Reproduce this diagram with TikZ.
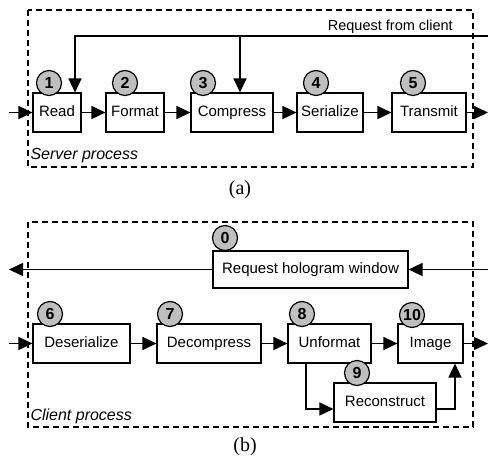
\documentclass[tikz,border=0pt]{standalone}
\usepackage{fontspec}
\setmainfont{Liberation Sans}
\newfontfamily\capfont{Liberation Serif}
\usetikzlibrary{arrows.meta}
\newcommand{\badge}[3]{\node[badge] (c#1) at (#2,#3) {#1};}
\begin{document}
\begin{tikzpicture}[x=1pt, y=-1pt, >={Triangle[length=14pt,width=13pt]},
    box/.style={draw, line width=1.1pt, fill=white, minimum height=39pt, inner sep=2pt,
        text height=11pt, text depth=3pt, font=\fontsize{15}{17}\selectfont},
    badge/.style={circle, draw, line width=1.2pt, fill=gray!50, minimum size=25pt, inner sep=0pt,
        font=\fontsize{16}{17}\selectfont\bfseries},
    frame/.style={draw, line width=1.6pt, dash pattern=on 6pt off 4pt},
    link/.style={line width=1.5pt, ->}]
    \useasboundingbox (0,0) rectangle (488,464);
    % (a) server side
    \draw[frame] (28,10) rectangle (473,167);
    \node[right, font=\fontsize{16}{17}\selectfont\itshape] (srv) at (27,156) {Server process};
    \node[box, minimum width=48pt] (read) at (57,112.5) {Read};
    \node[box, minimum width=58pt] (fmt) at (135,112.5) {Format};
    \node[box, minimum width=82pt] (comp) at (232,112.5) {Compress};
    \node[box, minimum width=66pt] (ser) at (330,112.5) {Serialize};
    \node[box, minimum width=74pt] (tx) at (429,112.5) {Transmit};
    \badge{1}{49}{83}
    \badge{2}{125}{83}
    \badge{3}{203}{83}
    \badge{4}{316}{83}
    \badge{5}{413}{83}
    \coordinate (ina) at (9,112.5);
    \coordinate (outa) at (488,112.5);
    \coordinate (rq) at (488,36);
    \node[above left, inner sep=2pt, font=\fontsize{14.5}{15}\selectfont] (rqt) at (455,36) {Request from client};
    \draw[link] (ina) -- (read);
    \draw[link] (read) -- (fmt);
    \draw[link] (fmt) -- (comp);
    \draw[link] (comp) -- (ser);
    \draw[link] (ser) -- (tx);
    \draw[link] (tx) -- (outa);
    \draw[link] (rq) -| ([xshift=18pt]read.north);
    \draw[link] (rq) -| ([xshift=8pt]comp.north);
    \node[font=\fontsize{20}{21}\capfont] (cap-a) at (240,190) {(a)};
    % (b) client side
    \draw[frame] (28,222) rectangle (473,427);
    \node[right, font=\fontsize{16}{17}\selectfont\itshape] (cli) at (27,416) {Client process};
    \node[box, minimum width=195pt, minimum height=37pt] (req) at (310.5,269.5) {Request hologram window};
    \node[box, minimum width=97pt] (des) at (81.5,343.5) {Deserialize};
    \node[box, minimum width=104pt] (dec) at (209,343.5) {Decompress};
    \node[box, minimum width=83pt] (unf) at (329.5,343.5) {Unformat};
    \node[box, minimum width=65pt] (img) at (430.5,343.5) {Image};
    \node[box, minimum width=102pt] (rec) at (385,402.5) {Reconstruct};
    \badge{0}{225}{238}
    \badge{6}{50}{314}
    \badge{7}{170}{314}
    \badge{8}{302}{314}
    \badge{9}{357}{373}
    \badge{10}{412}{315}
    \coordinate (inb) at (9,343.5);
    \coordinate (outb) at (488,343.5);
    \coordinate (rin) at (488,269.5);
    \coordinate (rout) at (9,269.5);
    \draw[link] (rin) -- (req);
    \draw[link] (req) -- (rout);
    \draw[link] (inb) -- (des);
    \draw[link] (des) -- (dec);
    \draw[link] (dec) -- (unf);
    \draw[link] (unf) -- (img);
    \draw[link] (img) -- (outb);
    \draw[link] ([xshift=-23.5pt]unf.south) |- ([yshift=-6.5pt]rec.west);
    \draw[link] ([yshift=-6.5pt]rec.east) -| ([xshift=24.5pt]img.south);
    \node[font=\fontsize{20}{21}\capfont] (cap-b) at (245,447) {(b)};
\end{tikzpicture}
\end{document}
